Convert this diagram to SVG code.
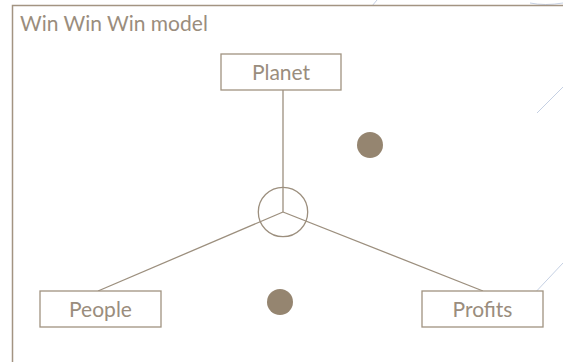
<svg xmlns="http://www.w3.org/2000/svg" width="563" height="362" viewBox="0 0 563 362">
<style>
.box{fill:#fff;stroke:#a09380;stroke-width:1.3}
.lbl{font-family:Lato,"Noto Sans",sans-serif;font-size:21px;fill:#9a8d7d;text-anchor:middle}
.con{stroke:#9c8f7e;stroke-width:1.3;fill:none}
.deco{stroke:#c5d0e3;stroke-width:1;fill:none}
.dot{fill:#958570}
</style>
<rect width="563" height="362" fill="#fff"/>
<g id="deco">
<path class="deco" d="M372 6 L377 0"/>
<path class="deco" d="M530 3 Q545 6 563 3"/>
<path class="deco" d="M537 113 L563 87"/>
<path class="deco" d="M531 297 L563 263"/>
</g>
<g id="frame">
<rect x="12.5" y="5.5" width="570" height="380" fill="none" stroke="#a39482" stroke-width="1.5"/>
<text x="20" y="31" class="lbl" style="text-anchor:start">Win Win Win model</text>
</g>
<g id="connectors">
<line class="con" x1="283" y1="90" x2="283" y2="212"/>
<line class="con" x1="283" y1="212" x2="98" y2="291"/>
<line class="con" x1="283" y1="212" x2="483" y2="291"/>
<circle class="con" cx="283" cy="212" r="24.7"/>
</g>
<g id="planet">
<rect class="box" x="221" y="54" width="120" height="36"/>
<text class="lbl" x="281" y="80">Planet</text>
</g>
<g id="people">
<rect class="box" x="40" y="291" width="121" height="36"/>
<text class="lbl" x="100.5" y="317">People</text>
</g>
<g id="profits">
<rect class="box" x="422" y="291" width="121" height="36"/>
<text class="lbl" x="482.5" y="317">Profits</text>
</g>
<g id="dots">
<circle class="dot" cx="370" cy="145" r="13"/>
<circle class="dot" cx="280" cy="302" r="13"/>
</g>
</svg>
